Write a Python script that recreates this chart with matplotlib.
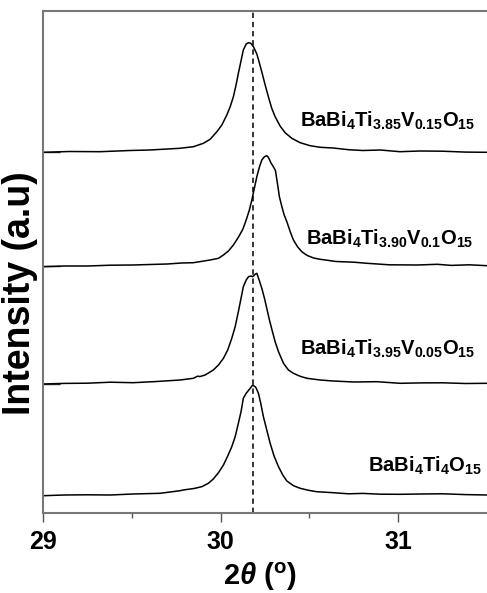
import numpy as np
from matplotlib import pyplot as plt

plt.rcParams['font.family'] = ['Liberation Sans', 'DejaVu Sans']
plt.rcParams['font.weight'] = 'bold'
plt.rcParams['mathtext.fontset'] = 'custom'
plt.rcParams['mathtext.rm'] = 'Liberation Sans:bold'
plt.rcParams['mathtext.it'] = 'Liberation Sans:bold:italic'
plt.rcParams['mathtext.bf'] = 'Liberation Sans:bold'

# XRD curves (2theta in degrees, intensity in arbitrary units)
x_v015 = [29.00, 29.15, 29.32, 29.49, 29.60, 29.77, 29.847, 29.903, 29.941, 29.979,
          30.007, 30.035, 30.054, 30.072, 30.087, 30.100, 30.114, 30.128, 30.144,
          30.157, 30.170, 30.185, 30.204, 30.219, 30.234, 30.251, 30.269, 30.288,
          30.307, 30.335, 30.363, 30.401, 30.448, 30.504, 30.561, 30.634, 30.72,
          30.80, 30.90, 31.01, 31.12, 31.25, 31.38, 31.50]
y_v015 = [360.7, 361.5, 361.3, 362.5, 363.0, 364.7, 366.3, 369.7, 373.7, 381.3,
          388.0, 398.0, 406.3, 416.3, 428.0, 439.7, 451.3, 463.0, 469.0,
          470.3, 469.7, 466.3, 459.0, 449.7, 439.7, 428.0, 416.3, 404.7,
          396.3, 387.0, 380.3, 374.7, 370.3, 367.3, 365.7, 365.0, 363.3,
          362.5, 363.0, 361.3, 362.0, 361.8, 360.9, 360.7]

x_v010 = [29.00, 29.12, 29.25, 29.38, 29.507, 29.62, 29.70, 29.78, 29.847, 29.941,
          29.988, 30.016, 30.044, 30.072, 30.100, 30.125, 30.144, 30.162, 30.176,
          30.190, 30.204, 30.219, 30.232, 30.247, 30.260, 30.269, 30.283, 30.297,
          30.309, 30.320, 30.331, 30.345, 30.358, 30.373, 30.392, 30.410, 30.433,
          30.457, 30.486, 30.523, 30.561, 30.65, 30.75, 30.825, 30.95, 31.107,
          31.22, 31.30, 31.40, 31.50]
y_v010 = [246.3, 247.0, 247.0, 247.8, 248.0, 248.6, 249.0, 250.0, 250.3, 253.0,
          254.7, 258.0, 262.0, 268.0, 275.7, 283.7, 293.0, 303.0, 313.0,
          324.7, 336.3, 346.3, 353.0, 356.3, 357.3, 355.7, 350.3, 346.3,
          342.3, 329.7, 316.3, 306.3, 298.0, 291.3, 281.3, 273.0, 266.3,
          261.3, 257.7, 255.0, 253.7, 251.5, 250.8, 249.7, 248.2, 248.0,
          248.7, 247.6, 248.2, 247.3]

x_v005 = [29.00, 29.12, 29.25, 29.38, 29.507, 29.64, 29.772, 29.847, 29.870, 29.885,
          29.913, 29.959, 29.988, 30.016, 30.040, 30.063, 30.082, 30.100, 30.115,
          30.128, 30.144, 30.157, 30.170, 30.181, 30.194, 30.204, 30.217, 30.232,
          30.247, 30.260, 30.275, 30.292, 30.307, 30.326, 30.354, 30.382, 30.410,
          30.448, 30.486, 30.561, 30.634, 30.75, 30.88, 31.011, 31.13, 31.25,
          31.38, 31.50]
y_v005 = [129.0, 129.6, 129.8, 130.8, 130.3, 131.5, 133.0, 134.7, 136.8, 136.5,
          138.0, 143.0, 148.0, 154.7, 163.0, 174.7, 186.3, 201.3, 214.7,
          226.3, 233.0, 236.3, 237.0, 236.3, 238.7, 239.7, 233.0, 224.7,
          214.7, 204.7, 193.0, 181.3, 171.3, 161.3, 149.7, 143.0, 139.7,
          136.7, 134.7, 133.0, 132.0, 131.0, 131.3, 129.7, 130.1, 130.2,
          129.5, 129.7]

x_v000 = [29.00, 29.12, 29.25, 29.38, 29.507, 29.659, 29.772, 29.789, 29.850, 29.894,
          29.931, 29.959, 29.988, 30.016, 30.040, 30.063, 30.082, 30.100, 30.115,
          30.128, 30.144, 30.162, 30.181, 30.198, 30.213, 30.226, 30.241, 30.260,
          30.279, 30.301, 30.326, 30.350, 30.373, 30.410, 30.448, 30.495, 30.541,
          30.634, 30.72, 30.80, 30.90, 31.011, 31.13, 31.25, 31.38, 31.50]
y_v000 = [17.3, 18.0, 18.2, 18.0, 19.0, 19.7, 22.3, 23.0, 24.5, 26.3,
          29.7, 34.0, 40.3, 48.0, 57.0, 66.3, 76.3, 89.7, 101.3,
          114.7, 119.7, 123.7, 128.0, 125.7, 119.7, 109.7, 96.3, 83.0,
          69.7, 57.0, 46.3, 38.0, 32.0, 27.3, 24.7, 22.7, 21.3,
          20.3, 19.2, 19.6, 18.8, 18.7, 19.0, 19.2, 18.4, 18.0]

curve_x = [x_v015, x_v010, x_v005, x_v000]
curve_y = [y_v015, y_v010, y_v005, y_v000]

labels = [r"BaBi$_{4}$Ti$_{3.85}$V$_{0.15}$O$_{15}$",
          r"BaBi$_{4}$Ti$_{3.90}$V$_{0.1}$O$_{15}$",
          r"BaBi$_{4}$Ti$_{3.95}$V$_{0.05}$O$_{15}$",
          r"BaBi$_{4}$Ti$_{4}$O$_{15}$"]
label_x = [31.434, 31.423, 31.434, 31.473]
label_y = [386, 268, 158, 41]

baselines = [129, 247, 361]
ref_peak = 30.18

fig = plt.figure(figsize=(4.87, 5.93), dpi=100)
ax = fig.add_axes([43 / 487, 80 / 593, 444 / 487, 502 / 593])

for xs, ys in zip(curve_x, curve_y):
    ax.plot(xs, ys, color='black', lw=1.1)

ax.axvline(ref_peak, color='black', lw=1.1, ls=(0, (3.5, 2.5)))

for lab, lx, ly in zip(labels, label_x, label_y):
    ax.text(lx, ly, lab, ha='right', va='baseline', fontsize=14.5, fontweight='bold')

ax.set_xlim(29, 31.5)
ax.set_ylim(0, 502)

ax.set_xticks([29, 30, 31])
ax.set_xticks([29.5, 30.5], minor=True)
ax.set_xticklabels(['29', '30', '31'], fontsize=18, fontweight='bold')
ax.tick_params(axis='x', which='major', direction='out', length=6.5, width=1.0,
               color='#555555', pad=6)
ax.tick_params(axis='x', which='minor', direction='out', length=3.5, width=1.0,
               color='#555555')

ax.set_yticks(baselines)
ax.set_yticklabels([])
ax.tick_params(axis='y', direction='in', length=12, width=1.0, color='#333333')

for side in ['left', 'bottom', 'top']:
    ax.spines[side].set_color('#777777')
    ax.spines[side].set_linewidth(1.5)
ax.spines['right'].set_visible(False)

fig.text(20 / 487, 1 - 293 / 593, "Intensity (a.u)", rotation=90, ha='center',
         va='center', fontsize=27, fontweight='bold')
fig.text(260 / 487, 1 - 577 / 593, r"$2\theta$ ($^{\mathrm{o}}$)", ha='center',
         va='center', fontsize=21, fontweight='bold')

fig.savefig('out.png', dpi=100)
